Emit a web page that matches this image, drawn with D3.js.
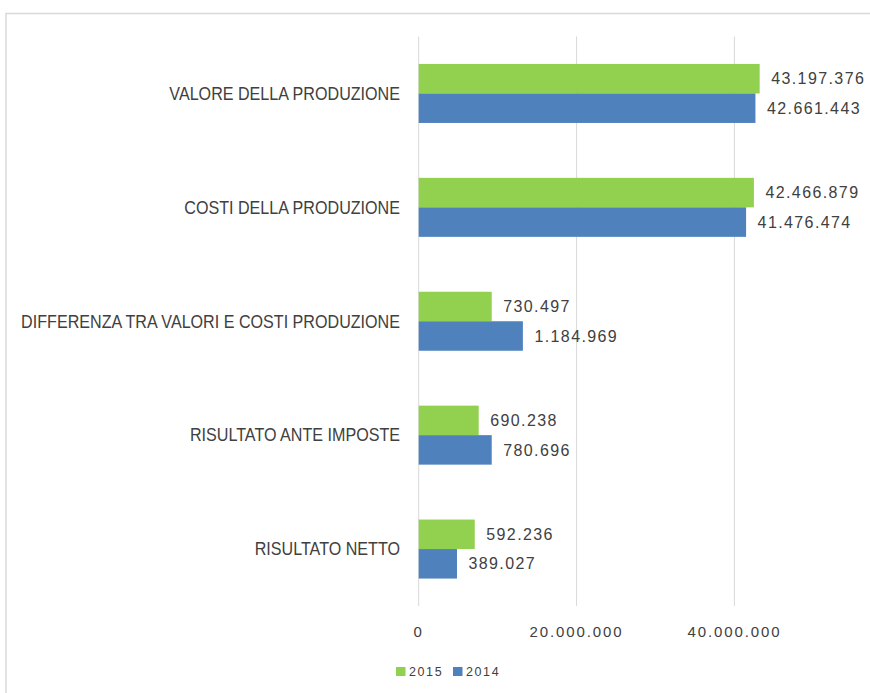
<!DOCTYPE html>
<html lang="it">
<head>
  <meta charset="UTF-8">
  <title>Valore e costi della produzione</title>
  <script src="https://cdn.jsdelivr.net/npm/d3@7"></script>
  <style>
    body { margin: 0; background: #fff; }
    svg { display: block; }
  </style>
</head>
<body>
  <div id="chart"></div>
  <script>
    // categories, top to bottom
    var categories = [
      "VALORE DELLA PRODUZIONE",
      "COSTI DELLA PRODUZIONE",
      "DIFFERENZA TRA VALORI E COSTI PRODUZIONE",
      "RISULTATO ANTE IMPOSTE",
      "RISULTATO NETTO"
    ];
    var years = ["2015", "2014"];

    // bar lengths as drawn in the picture
    var bars2015 = [43197376, 42466879, 9250000, 7600000, 7100000];
    var bars2014 = [42661443, 41476474, 13200000, 9250000, 4850000];

    // data labels printed next to the bars
    var labels2015 = ["43.197.376", "42.466.879", "730.497", "690.238", "592.236"];
    var labels2014 = ["42.661.443", "41.476.474", "1.184.969", "780.696", "389.027"];

    var tickValues = [0, 20000000, 40000000, 60000000];
    var tickLabels = ["0", "20.000.000", "40.000.000", "60.000.000"];

    var colors = { "2015": "#92d050", "2014": "#4f81bd" };

    var width = 870, height = 693;
    var plot = { left: 418.7, right: 892.3, top: 36.5, bottom: 606 };

    var svg = d3.select("#chart").append("svg")
      .attr("width", width)
      .attr("height", height);

    // chart frame (the right and bottom edges fall outside the picture)
    svg.append("rect")
      .attr("x", 6)
      .attr("y", 13.5)
      .attr("width", 1000)
      .attr("height", 1000)
      .attr("fill", "none")
      .attr("stroke", "#d9d9d9")
      .attr("stroke-width", 1.5);

    var x = d3.scaleLinear()
      .domain([0, 60000000])
      .range([plot.left, plot.right]);

    var y = d3.scaleBand()
      .domain(categories)
      .range([plot.top, plot.bottom])
      .padding(0);

    var groupH = 59;
    var sub = d3.scaleBand()
      .domain(years)
      .range([0, groupH])
      .padding(0);

    function bandTop(c) {
      return y(c) + (y.bandwidth() - groupH) / 2;
    }

    // vertical gridlines
    svg.append("g").selectAll("line")
      .data(tickValues)
      .enter().append("line")
      .attr("x1", function(d) { return x(d); })
      .attr("x2", function(d) { return x(d); })
      .attr("y1", plot.top)
      .attr("y2", plot.bottom)
      .attr("stroke", "#d9d9d9")
      .attr("stroke-width", 1);

    // tick labels (only those that land inside the picture)
    svg.append("g").selectAll("text")
      .data(tickValues.filter(function(d) { return x(d) < width - 40; }))
      .enter().append("text")
      .attr("x", function(d) { return x(d); })
      .attr("y", 632)
      .attr("dy", "0.35em")
      .attr("text-anchor", "middle")
      .style("font-family", "'Liberation Sans', Arial, sans-serif")
      .style("font-size", "15px")
      .style("letter-spacing", "1.9px")
      .style("fill", "#404040")
      .text(function(d) { return tickLabels[tickValues.indexOf(d)]; });

    // category labels, squeezed horizontally like a narrow face
    svg.append("g").selectAll("text")
      .data(categories)
      .enter().append("text")
      .attr("transform", function(d) {
        return "translate(400," + (y(d) + y.bandwidth() / 2) + ") scale(0.895,1)";
      })
      .attr("dy", "0.35em")
      .attr("text-anchor", "end")
      .style("font-family", "'Liberation Sans', Arial, sans-serif")
      .style("font-size", "18px")
      .style("fill", "#404040")
      .text(function(d) { return d; });

    var series = [
      { year: "2015", values: bars2015, labels: labels2015 },
      { year: "2014", values: bars2014, labels: labels2014 }
    ];

    series.forEach(function(s) {
      var rows = categories.map(function(c, i) {
        return { cat: c, value: s.values[i], label: s.labels[i] };
      });

      svg.append("g").selectAll("rect")
        .data(rows)
        .enter().append("rect")
        .attr("x", x(0))
        .attr("y", function(d) { return bandTop(d.cat) + sub(s.year); })
        .attr("width", function(d) { return x(d.value) - x(0); })
        .attr("height", sub.bandwidth())
        .attr("fill", colors[s.year]);

      svg.append("g").selectAll("text")
        .data(rows)
        .enter().append("text")
        .attr("x", function(d) { return x(d.value) + 11.5; })
        .attr("y", function(d) { return bandTop(d.cat) + sub(s.year) + sub.bandwidth() / 2; })
        .attr("dy", "0.35em")
        .style("font-family", "'Liberation Sans', Arial, sans-serif")
        .style("font-size", "16px")
        .style("letter-spacing", "1.4px")
        .style("fill", "#404040")
        .text(function(d) { return d.label; });
    });

    // legend
    var legend = svg.append("g");
    var legendX = [396, 453];
    years.forEach(function(yr, i) {
      legend.append("rect")
        .attr("x", legendX[i])
        .attr("y", 667)
        .attr("width", 9.5)
        .attr("height", 9)
        .attr("fill", colors[yr]);
      legend.append("text")
        .attr("x", legendX[i] + 13)
        .attr("y", 671.5)
        .attr("dy", "0.35em")
        .style("font-family", "'Liberation Sans', Arial, sans-serif")
        .style("font-size", "12.5px")
        .style("letter-spacing", "1.6px")
        .style("fill", "#404040")
        .text(yr);
    });
  </script>
</body>
</html>
